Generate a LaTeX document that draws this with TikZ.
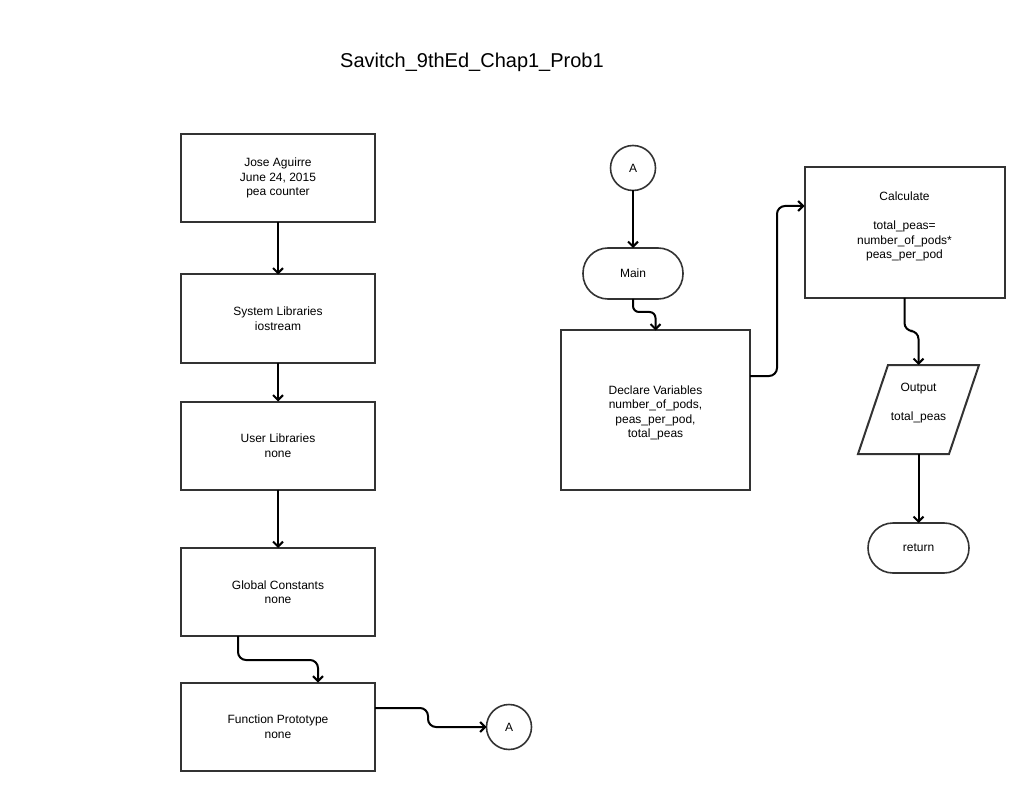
\documentclass[tikz,border=0pt]{standalone}
\usepackage{fontspec}
\setmainfont{Liberation Sans}
\usetikzlibrary{arrows.meta,calc}
\definecolor{boxgray}{HTML}{333333}
\begin{document}
\begin{tikzpicture}[x=1pt,y=-1pt,
  lbl/.style={font=\fontsize{12}{14.5}\selectfont, align=center, text=black},
  box/.style={lbl, draw=boxgray, line width=2pt, fill=white, inner sep=0pt, outer sep=0pt},
  procbox/.style={box, minimum width=194pt, minimum height=88pt},
  term/.style={box, line width=1.6pt, rounded corners=25pt},
  conncircle/.style={lbl, circle, draw=boxgray, line width=1.6pt, minimum size=45pt, inner sep=0pt, outer sep=0pt},
  conn/.style={draw=black, line width=2pt, rounded corners=8pt,
    -{Straight Barb[length=5pt,width=10pt,line width=2pt]}},
]
\useasboundingbox (0,0) rectangle (1030,791);

% title
\node[font=\fontsize{20}{24}\selectfont] (title) at (472,62) {Savitch\_9thEd\_Chap1\_Prob1};

% left column: program header blocks
\node[procbox] (info)  at (278,178)   {Jose Aguirre\\June 24, 2015\\pea counter};
\node[procbox] (sys)   at (278,318.5) {System Libraries\\iostream};
\node[procbox] (usr)   at (278,445.5) {User Libraries\\none};
\node[procbox] (glob)  at (278,592)   {Global Constants\\none};
\node[procbox] (proto) at (278,726.5) {Function Prototype\\none};
\node[conncircle] (ca1) at (509,727) {A};

% right side: main program
\node[conncircle] (ca2) at (633,168) {A};
\node[term, minimum width=100pt, minimum height=51pt] (main) at (633,273.5) {Main};
\node[box, minimum width=189pt, minimum height=159pt] (decl) at (655.5,410)
  {\mbox{}\\Declare Variables\\number\_of\_pods,\\peas\_per\_pod,\\total\_peas};
\node[box, minimum width=200pt, minimum height=131pt] (calc) at (904.5,232.5)
  {Calculate\\\mbox{}\\total\_peas=\\number\_of\_pods*\\peas\_per\_pod\\\mbox{}};
\node[lbl, minimum width=91pt, minimum height=89pt, inner sep=0pt, outer sep=0pt] (out) at (918.5,409.5)
  {Output\\\mbox{}\\total\_peas\\\mbox{}};
\draw[boxgray, line width=2pt, line join=miter]
  ($(out.north west)+(15,0)$) -- ($(out.north east)+(15,0)$) --
  ($(out.south east)+(-15,0)$) -- ($(out.south west)+(-15,0)$) -- cycle;
\node[term, minimum width=101pt, minimum height=50pt] (ret) at (918.5,548) {return};

% connectors
\draw[conn] (info.south) -- (sys.north);
\draw[conn] (sys.south) -- (usr.north);
\draw[conn] (usr.south) -- (glob.north);
\draw[conn] ($(glob.south)+(-40,0)$) -- ++(0,24) -| ($(proto.north)+(40,0)$);
\draw[conn] ($(proto.east)+(0,-18.5)$) -- ++(53,0) |- (ca1.west);
\draw[conn] (ca2.south) -- (main.north);
\draw[conn, rounded corners=6pt] (main.south) -- ++(0,13) -| (decl.north);
\draw[conn] ($(decl.east)+(0,-34)$) -- ++(27,0) |- ($(calc.west)+(0,-26.5)$);
\draw[conn] (calc.south) -- ++(0,33) -| (out.north);
\draw[conn] (out.south) -- (ret.north);
\end{tikzpicture}
\end{document}
